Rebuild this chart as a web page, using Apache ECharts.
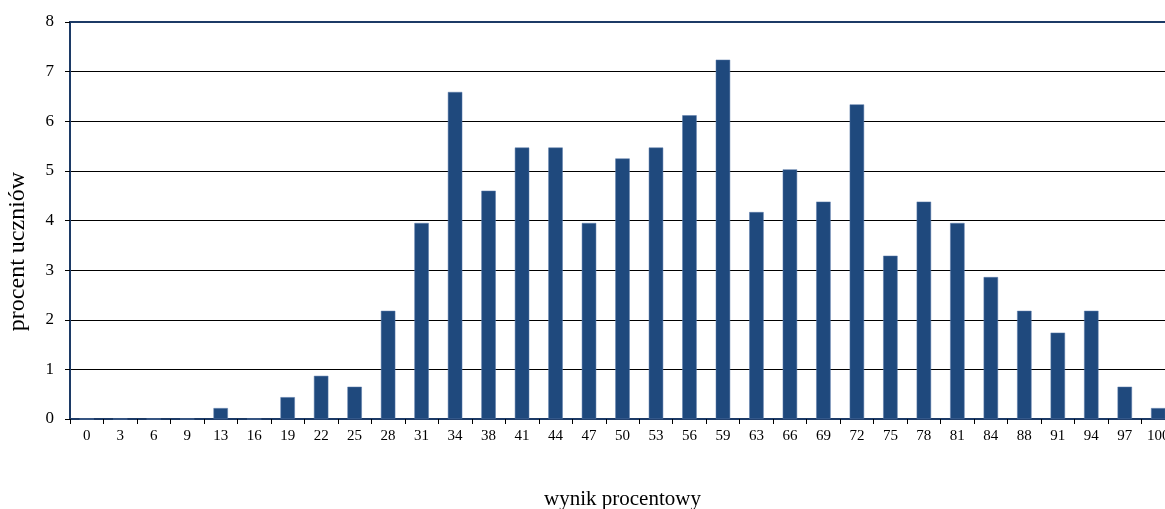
<!DOCTYPE html>
<html>
<head>
<meta charset="utf-8">
<script src="https://cdn.jsdelivr.net/npm/echarts@6/dist/echarts.min.js"></script>
<style>
html,body{margin:0;padding:0;background:#fff;}
#chart{width:1165px;height:509px;}
</style>
</head>
<body>
<div id="chart"></div>
<script>
const categories = ['0','3','6','9','13','16','19','22','25','28','31','34','38','41','44','47','50','53','56','59','63','66','69','72','75','78','81','84','88','91','94','97','100'];
const values = [0,0,0,0,0.22,0,0.44,0.87,0.65,2.18,3.95,6.59,4.60,5.47,5.47,3.95,5.25,5.47,6.12,7.24,4.17,5.03,4.38,6.34,3.29,4.38,3.95,2.86,2.18,1.74,2.18,0.65,0.22];
const yTicks = [0,1,2,3,4,5,6,7,8];
const xTitle = 'wynik procentowy';
const yTitle = 'procent uczniów';

const chart = echarts.init(document.getElementById('chart'), null, {renderer:'canvas'});
const splitColors = yTicks.map((t,i)=> i === yTicks.length-1 ? 'rgba(0,0,0,0)' : '#000000');
chart.setOption({
  animation:false,
  backgroundColor:'#ffffff',
  grid:{left:70, top:22, width:1105, height:397, containLabel:false, outerBoundsMode:'none', show:true, borderColor:'#1c3a66', borderWidth:2, backgroundColor:'rgba(0,0,0,0)'},
  xAxis:{
    type:'category',
    data:categories,
    name:xTitle,
    nameLocation:'middle',
    nameGap:70,
    nameTextStyle:{fontFamily:'Liberation Serif', fontSize:21, color:'#000'},
    axisLine:{lineStyle:{color:'#1c3a66', width:2}},
    axisTick:{show:true, length:5, alignWithLabel:false, lineStyle:{color:'#000'}},
    axisLabel:{interval:0, margin:10, fontFamily:'Liberation Serif', fontSize:15, color:'#000'}
  },
  yAxis:{
    type:'value',
    min:0, max:8, interval:1,
    name:yTitle,
    nameLocation:'middle',
    nameGap:40,
    nameRotate:90,
    nameTextStyle:{fontFamily:'Liberation Serif', fontSize:24, color:'#000', padding:[0,62,0,0]},
    axisLine:{show:true, lineStyle:{color:'#1c3a66', width:2}},
    axisTick:{show:true, length:5, lineStyle:{color:'#000'}},
    axisLabel:{margin:16, fontFamily:'Liberation Serif', fontSize:17, color:'#000'},
    splitLine:{show:true, lineStyle:{color:splitColors, width:1}}
  },
  series:[{
    type:'bar',
    data:values,
    barWidth:'43%',
    itemStyle:{color:'#1f497d', borderColor:'#5a7bab', borderWidth:0.5}
  }]
});
</script>
</body>
</html>
